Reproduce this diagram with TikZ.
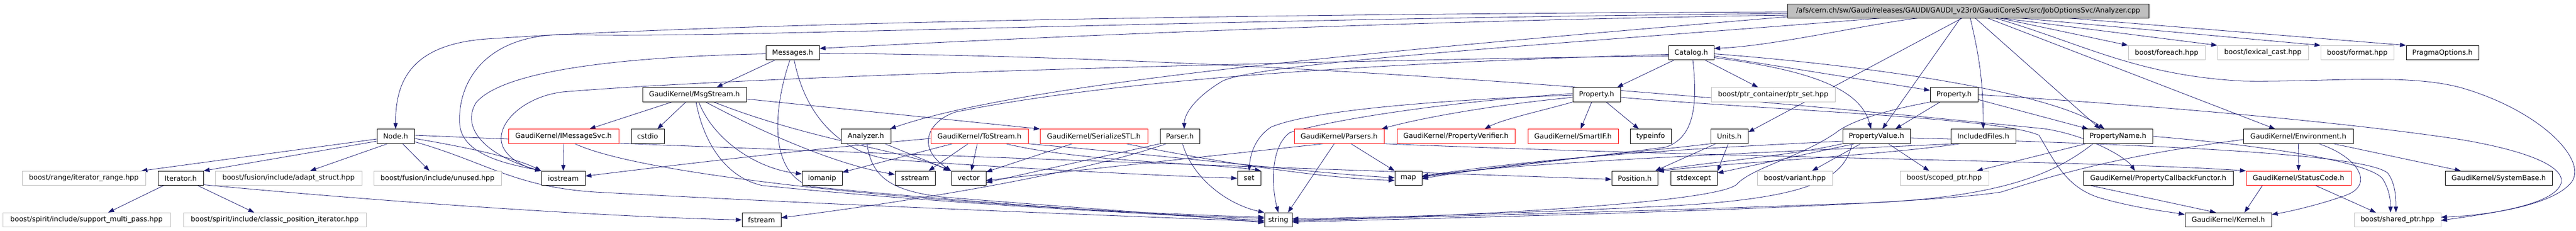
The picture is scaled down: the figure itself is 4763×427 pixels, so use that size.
\documentclass[tikz,border=0pt]{standalone}
\usepackage{fontspec}
\setmainfont{DejaVu Sans}
\usetikzlibrary{arrows.meta,backgrounds}
\definecolor{edgec}{HTML}{191970}
\definecolor{rootgray}{HTML}{BFBFBF}
\definecolor{boxgray}{HTML}{BFBFBF}
\begin{document}
\begin{tikzpicture}[x=1pt,y=-1pt,
  box/.style={draw, line width=0.9pt, inner sep=0pt, minimum height=26.5pt, fill=white,
    font=\fontsize{12.9}{15}\selectfont, text=black},
  bk/.style={box, draw=black},
  rd/.style={box, draw=red},
  gy/.style={box, draw=boxgray},
  rt/.style={box, draw=black, fill=rootgray},
  edg/.style={draw=edgec, line width=0.8pt, -{Triangle[length=11pt,width=8pt]}}
]
\useasboundingbox (0,0) rectangle (4763,427);
% ---------- row 0
\node[rt, minimum width=668pt, minimum height=26pt] (root) at (3639,20) {/afs/cern.ch/sw/Gaudi/releases/GAUDI/GAUDI\_v23r0/GaudiCoreSvc/src/JobOptionsSvc/Analyzer.cpp};
% ---------- row 1
\node[bk, minimum width=99pt] (messages) at (1465.5,97.5) {Messages.h};
\node[bk, minimum width=84pt] (catalog) at (3127,97.5) {Catalog.h};
\node[gy, minimum width=142pt] (foreach) at (4006,97.5) {boost/foreach.hpp};
\node[gy, minimum width=168pt] (lexcast) at (4184,97.5) {boost/lexical\_cast.hpp};
\node[gy, minimum width=135pt] (format) at (4358.5,97.5) {boost/format.hpp};
\node[bk, minimum width=134pt] (pragma) at (4516,97.5) {PragmaOptions.h};
% ---------- row 2
\node[bk, minimum width=192pt] (msgstream) at (1284,175) {GaudiKernel/MsgStream.h};
\node[bk, minimum width=88pt] (propA) at (2952,175) {Property.h};
\node[gy, minimum width=229pt] (ptrset) at (3278.5,175) {boost/ptr\_container/ptr\_set.hpp};
\node[bk, minimum width=88pt] (propB) at (3613,175) {Property.h};
% ---------- row 3
\node[bk, minimum width=69pt] (node) at (731.5,252) {Node.h};
\node[rd, minimum width=204pt] (imsgsvc) at (1042,252) {GaudiKernel/IMessageSvc.h};
\node[bk, minimum width=61pt] (cstdio) at (1197.5,252) {cstdio};
\node[bk, minimum width=92pt] (analyzer) at (1601,252) {Analyzer.h};
\node[rd, minimum width=180pt] (tostream) at (1811,252) {GaudiKernel/ToStream.h};
\node[rd, minimum width=199pt] (serial) at (2022.5,252) {GaudiKernel/SerializeSTL.h};
\node[bk, minimum width=73pt] (parser) at (2181.5,252) {Parser.h};
\node[rd, minimum width=166pt] (parsers) at (2476,252) {GaudiKernel/Parsers.h};
\node[rd, minimum width=218pt] (verifier) at (2692,252) {GaudiKernel/PropertyVerifier.h};
\node[rd, minimum width=167pt] (smartif) at (2908.5,252) {GaudiKernel/SmartIF.h};
\node[bk, minimum width=76pt] (typeinfo) at (3052,252) {typeinfo};
\node[bk, minimum width=69pt] (units) at (3197.5,252) {Units.h};
\node[bk, minimum width=125pt] (propvalue) at (3469.5,252) {PropertyValue.h};
\node[bk, minimum width=120pt] (included) at (3667,252) {IncludedFiles.h};
\node[bk, minimum width=128pt] (propname) at (3916,252) {PropertyName.h};
\node[bk, minimum width=203pt] (environment) at (4249.5,252) {GaudiKernel/Environment.h};
% ---------- row 4
\node[gy, minimum width=228pt] (iterrange) at (155,329.5) {boost/range/iterator\_range.hpp};
\node[bk, minimum width=84pt] (iterator) at (334,329.5) {Iterator.h};
\node[gy, minimum width=271pt] (adapt) at (533.5,329.5) {boost/fusion/include/adapt\_struct.hpp};
\node[gy, minimum width=236pt] (unused) at (809,329.5) {boost/fusion/include/unused.hpp};
\node[bk, minimum width=81pt] (iostream) at (1041.5,329.5) {iostream};
\node[bk, minimum width=74pt] (iomanip) at (1520,329.5) {iomanip};
\node[bk, minimum width=74pt] (sstream) at (1692,329.5) {sstream};
\node[bk, minimum width=64pt] (vector) at (1791,329.5) {vector};
\node[bk, minimum width=43pt] (set) at (2309.5,329.5) {set};
\node[bk, minimum width=50pt] (map) at (2604,329.5) {map};
\node[bk, minimum width=85pt] (position) at (3022.5,329.5) {Position.h};
\node[bk, minimum width=86pt] (stdexcept) at (3132,329.5) {stdexcept};
\node[gy, minimum width=139pt] (variant) at (3318.5,329.5) {boost/variant.hpp};
\node[gy, minimum width=164pt] (scoped) at (3595,329.5) {boost/scoped\_ptr.hpp};
\node[bk, minimum width=277pt] (callback) at (3990.5,329.5) {GaudiKernel/PropertyCallbackFunctor.h};
\node[rd, minimum width=194pt] (statuscode) at (4250,329.5) {GaudiKernel/StatusCode.h};
\node[bk, minimum width=198pt] (systembase) at (4620,329.5) {GaudiKernel/SystemBase.h};
% ---------- row 5
\node[gy, minimum width=310pt] (multipass) at (160,406.5) {boost/spirit/include/support\_multi\_pass.hpp};
\node[gy, minimum width=338pt] (classicpos) at (508,406.5) {boost/spirit/include/classic\_position\_iterator.hpp};
\node[bk, minimum width=72pt] (fstream) at (1408,406.5) {fstream};
\node[bk, minimum width=51pt] (string) at (2363.5,406.5) {string};
\node[bk, minimum width=160pt] (kernel) at (4120,406.5) {GaudiKernel/Kernel.h};
\node[gy, minimum width=160pt] (sharedptr) at (4433,406.5) {boost/shared\_ptr.hpp};

\begin{scope}[on background layer]
% ---------- root
\draw[edg] ([yshift=-8pt]root.west) .. controls (2500,40) and (1800,75) .. ([yshift=8pt]messages.east);
\draw[edg] ([xshift=-92pt]root.south) .. controls (3450,45) and (3280,85) .. ([yshift=8pt]catalog.east);
\draw[edg] ([xshift=58pt]root.south) -- (foreach.north west);
\draw[edg] ([xshift=62pt]root.south) -- (lexcast.north west);
\draw[edg] ([xshift=95pt]root.south) -- (format.north west);
\draw[edg] ([xshift=184pt]root.south) -- (pragma.north west);
\draw[edg] ([yshift=-2pt]root.west) .. controls (2200,26) and (1300,45) .. (900,72) .. controls (760,82) and (731,150) .. (node.north);
\draw[edg] ([yshift=-5pt]root.west) .. controls (2200,35) and (1300,72) .. (1060,64) .. controls (900,58) and (845,150) .. (850,230) .. controls (855,290) and (950,305) .. (iostream.north west);
\draw[edg] ([yshift=-11pt]root.west) .. controls (2600,90) and (1900,150) .. ([xshift=-2pt]analyzer.north east);
\draw[edg] ([xshift=-160pt]root.south) .. controls (2900,80) and (2330,115) .. (2260,150) .. controls (2210,180) and (2190,210) .. ([xshift=8pt]parser.north);
\draw[edg] ([xshift=-11pt]root.south) -- ([yshift=-6pt]units.north east);
\draw[edg] ([xshift=-14pt]root.south) -- ([xshift=11pt]propvalue.north);
\draw[edg] ([xshift=4pt]root.south) .. controls (3656,90) and (3667,140) .. (included.north);
\draw[edg] ([xshift=13pt]root.south) -- ([xshift=-33pt]propname.north);
\draw[edg] ([xshift=36pt]root.south) -- ([xshift=-43pt]environment.north);
\draw[edg] ([xshift=50pt]root.south) .. controls (3850,80) and (3950,140) .. (4150,150) .. controls (4300,152) and (4450,135) .. (4550,162) .. controls (4700,205) and (4790,300) .. (4752,340) .. controls (4715,380) and (4600,398) .. ([yshift=5pt]sharedptr.east);
% ---------- Messages.h
\draw[edg] ([xshift=-33pt]messages.south) -- ([xshift=41pt]msgstream.north);
\draw[edg] ([yshift=-2pt]messages.west) .. controls (1150,105) and (930,130) .. (880,190) .. controls (850,240) and (905,290) .. (iostream.north west);
\draw[edg] ([xshift=-5pt]messages.south) .. controls (1430,200) and (1420,320) .. (1500,345) .. controls (1800,375) and (2150,398) .. ([yshift=-1pt]string.west);
\draw[edg] ([xshift=3pt]messages.south) .. controls (1490,220) and (1560,285) .. (1650,295) .. controls (1850,310) and (2150,325) .. (set.west);
\draw[edg] ([yshift=-1pt]messages.east) .. controls (2400,105) and (3300,190) .. (3780,238) .. controls (3860,250) and (3930,290) .. ([xshift=-43pt]callback.north);
% ---------- MsgStream.h
\draw[edg] ([xshift=-42pt]msgstream.south) -- ([xshift=48pt]imsgsvc.north);
\draw[edg] ([xshift=-16pt]msgstream.south) -- ([xshift=18pt]cstdio.north);
\draw[edg] ([xshift=3pt]msgstream.south) .. controls (1300,260) and (1340,328) .. (1410,343) .. controls (1700,372) and (2100,397) .. ([yshift=3pt]string.west);
\draw[edg] ([xshift=8pt]msgstream.south) .. controls (1320,260) and (1400,312) .. ([yshift=8pt]iomanip.west);
\draw[edg] ([xshift=21pt]msgstream.south) .. controls (1420,250) and (1550,305) .. ([yshift=7pt]sstream.west);
\draw[edg] ([xshift=36pt]msgstream.south) .. controls (1500,260) and (1680,280) .. ([xshift=-3pt]vector.north west);
\draw[edg] ([yshift=-8pt]msgstream.east) -- (serial.north west);
% ---------- IMessageSvc.h
\draw[edg] (imsgsvc.south) -- (iostream.north);
\draw[edg] ([xshift=21pt]imsgsvc.south) .. controls (1200,330) and (1800,385) .. ([yshift=5pt]string.west);
% ---------- Node.h
\draw[edg] ([yshift=-5pt]node.west) -- ([xshift=-8pt]iterrange.north east);
\draw[edg] ([yshift=-9pt]node.west) -- (iterator.north east);
\draw[edg] ([xshift=-15pt]node.south) -- ([xshift=40pt]adapt.north);
\draw[edg] ([xshift=13pt]node.south) -- ([xshift=-15pt]unused.north);
\draw[edg] ([yshift=-4pt]node.east) .. controls (850,270) and (950,290) .. (iostream.north west);
\draw[edg] ([yshift=-10pt]node.east) .. controls (900,300) and (950,345) .. (1100,355) .. controls (1600,382) and (2100,400) .. ([yshift=-3pt]string.west);
\draw[edg] ([yshift=2pt]node.east) .. controls (1500,280) and (2600,318) .. ([yshift=-2pt]position.west);
% ---------- Iterator.h
\draw[edg] ([xshift=-32pt]iterator.south) -- ([xshift=40pt]multipass.north);
\draw[edg] ([xshift=32pt]iterator.south) -- ([xshift=-38pt]classicpos.north);
\draw[edg] ([yshift=-12pt]iterator.east) .. controls (700,372) and (1100,400) .. (fstream.west);
% ---------- Analyzer.h
\draw[edg] ([xshift=35pt]analyzer.south) -- (vector.north west);
\draw[edg] ([xshift=2pt]analyzer.south) .. controls (1612,330) and (1650,352) .. (1740,364) .. controls (2000,385) and (2200,398) .. ([yshift=-5pt]string.west);
% ---------- ToStream.h
\draw[edg] ([yshift=-4pt]tostream.west) .. controls (1500,275) and (1250,305) .. ([yshift=4pt]iostream.east);
\draw[edg] ([xshift=-50pt]tostream.south) -- ([yshift=11pt]iomanip.east);
\draw[edg] ([xshift=-21pt]tostream.south) -- ([xshift=25pt]sstream.north);
\draw[edg] ([xshift=-4pt]tostream.south) -- ([xshift=5pt]vector.north);
\draw[edg] ([xshift=49pt]tostream.south) .. controls (2000,300) and (2250,302) .. (set.north east);
\draw[edg] (tostream.south east) .. controls (2200,292) and (2450,322) .. ([yshift=1pt]map.west);
% ---------- SerializeSTL.h
\draw[edg] ([xshift=-40pt]serial.south) -- ([yshift=-2pt]vector.north east);
\draw[edg] ([xshift=60pt]serial.south) .. controls (2250,300) and (2450,330) .. ([yshift=-4pt]map.west);
% ---------- Parser.h
\draw[edg] ([xshift=5pt]parser.south) .. controls (2205,330) and (2270,378) .. (string.north west);
\draw[edg] (parser.south west) -- ([yshift=-8pt]vector.east);
\draw[edg] ([xshift=-25pt]parser.south) .. controls (2000,320) and (1700,370) .. ([yshift=4pt]fstream.east);
% ---------- Parsers.h
\draw[edg] ([xshift=22pt]parsers.south) -- (map.north west);
\draw[edg] ([xshift=-9pt]parsers.south) -- ([xshift=-8pt]string.north east);
\draw[edg] ([xshift=-29pt]parsers.south) -- ([yshift=-4pt]vector.east);
\draw[edg] (parsers.south east) .. controls (3200,292) and (3900,298) .. (statuscode.north west);
% ---------- Property.h (A)
\draw[edg] ([xshift=-9pt]propA.south) -- ([xshift=14pt]smartif.north);
\draw[edg] ([xshift=18pt]propA.south) -- ([xshift=-22pt]typeinfo.north);
\draw[edg] (propA.south west) .. controls (2850,205) and (2780,220) .. ([xshift=53pt]verifier.north);
\draw[edg] ([yshift=-5pt]propA.west) .. controls (2750,195) and (2620,220) .. ([xshift=-5pt]parsers.north east);
\draw[edg] ([yshift=2pt]propA.west) .. controls (2650,190) and (2450,225) .. (2385,245) .. controls (2350,270) and (2350,340) .. (string.north);
\draw[edg] ([yshift=-1pt]propA.west) .. controls (2650,185) and (2420,205) .. (2350,235) .. controls (2320,255) and (2312,285) .. (set.north);
\draw[edg] ([yshift=-5pt]propA.east) .. controls (3300,205) and (3700,218) .. (3770,250) .. controls (3800,300) and (3820,345) .. (3880,365) .. controls (3950,385) and (4000,390) .. ([yshift=10pt]kernel.west);
% ---------- Catalog.h
\draw[edg] ([xshift=-32pt]catalog.south) -- ([xshift=38pt]propA.north);
\draw[edg] ([xshift=26pt]catalog.south) -- ([xshift=-28pt]ptrset.north);
\draw[edg] ([yshift=-6pt]catalog.east) -- ([yshift=8pt]propB.west);
\draw[edg] ([yshift=-2pt]catalog.east) .. controls (3500,125) and (3800,175) .. ([xshift=-25pt]propname.north);
\draw[edg] ([yshift=-9pt]catalog.east) .. controls (3350,130) and (3440,165) .. ([xshift=-10pt]propvalue.north);
\draw[edg] ([yshift=-6pt]catalog.west) .. controls (2400,112) and (1400,140) .. (1040,170) .. controls (960,180) and (905,240) .. (935,280) .. controls (950,300) and (975,310) .. (iostream.north west);
\draw[edg] ([yshift=-3pt]catalog.west) .. controls (2500,118) and (2050,150) .. (1767,207) .. controls (1720,222) and (1690,270) .. (vector.north west);
\draw[edg] ([xshift=3pt]catalog.south) .. controls (3140,200) and (3130,255) .. (3080,272) .. controls (2900,295) and (2700,318) .. ([yshift=2pt]map.east);
% ---------- Units.h
\draw[edg] ([xshift=-25pt]units.south) -- ([xshift=38pt]position.north);
\draw[edg] ([xshift=-2pt]units.south) -- ([yshift=-1pt]stdexcept.north east);
\draw[edg] (units.south west) .. controls (3000,285) and (2800,300) .. ([yshift=-1pt]map.east);
% ---------- PropertyValue.h
\draw[edg] ([xshift=-29pt]propvalue.south) -- ([xshift=32pt]variant.north);
\draw[edg] ([xshift=22pt]propvalue.south) -- ([xshift=-28pt]scoped.north);
\draw[edg] (propvalue.south west) .. controls (3300,290) and (3150,300) .. (position.north east);
\draw[edg] ([xshift=-40pt]propvalue.south) -- ([yshift=-4pt]stdexcept.north east);
\draw[edg] ([yshift=-9pt]propvalue.west) .. controls (3000,280) and (2800,300) .. ([yshift=4pt]map.east);
\draw[edg] ([xshift=-45pt]propvalue.south) .. controls (3410,330) and (3350,365) .. (3100,380) .. controls (2800,395) and (2550,402) .. ([yshift=2pt]string.east);
\draw[edg] ([yshift=-3pt]propvalue.east) .. controls (4100,270) and (4380,290) .. (4415,320) .. controls (4430,340) and (4430,370) .. ([xshift=-3pt]sharedptr.north);
% ---------- IncludedFiles.h
\draw[edg] ([xshift=-42pt]included.south) .. controls (3450,290) and (3200,300) .. ([yshift=-1pt]position.north east);
\draw[edg] ([xshift=-50pt]included.south) .. controls (3300,280) and (2800,300) .. ([yshift=3pt]map.east);
% ---------- PropertyName.h
\draw[edg] ([xshift=-59pt]propname.south) -- ([xshift=60pt]scoped.north);
\draw[edg] ([xshift=-46pt]propname.south) .. controls (3800,320) and (3700,370) .. (3400,377) .. controls (3000,392) and (2600,402) .. (string.east);
\draw[edg] (propname.east) .. controls (4200,270) and (4380,300) .. (4405,330) .. controls (4418,350) and (4420,370) .. ([xshift=-13pt]sharedptr.north);
% ---------- Property.h (B)
\draw[edg] ([yshift=-9pt]propB.east) -- ([xshift=-55pt]propname.north);
\draw[edg] ([xshift=-26pt]propB.south) -- ([xshift=35pt]propvalue.north);
\draw[edg] (propB.east) .. controls (3900,190) and (4300,220) .. (4550,258) .. controls (4680,280) and (4745,310) .. (4735,340) .. controls (4720,380) and (4600,395) .. ([yshift=-1pt]sharedptr.east);
\draw[edg] (propB.south west) .. controls (3480,205) and (3420,225) .. (3395,245) .. controls (3330,290) and (3240,310) .. (3212,340) .. controls (3180,375) and (2700,400) .. ([yshift=-2pt]string.east);
% ---------- Environment.h
\draw[edg] (environment.south) -- (statuscode.north);
\draw[edg] ([xshift=65pt]environment.south) -- ([xshift=-70pt]systembase.north);
\draw[edg] ([xshift=38pt]environment.south) .. controls (4360,290) and (4390,340) .. (4340,360) .. controls (4300,375) and (4240,390) .. ([yshift=10pt]kernel.east);
\draw[edg] ([yshift=-6pt]environment.west) .. controls (3900,290) and (3780,330) .. (3700,355) .. controls (3500,385) and (2700,402) .. ([yshift=-4pt]string.east);
% ---------- StatusCode.h / Callback
\draw[edg] ([xshift=-67pt]statuscode.south) -- ([xshift=30pt]kernel.north);
\draw[edg] ([xshift=32pt]statuscode.south) -- ([xshift=-40pt]sharedptr.north);
\draw[edg] ([xshift=-124pt]callback.south) -- ([xshift=-23pt]kernel.north);
\end{scope}
\end{tikzpicture}
\end{document}
